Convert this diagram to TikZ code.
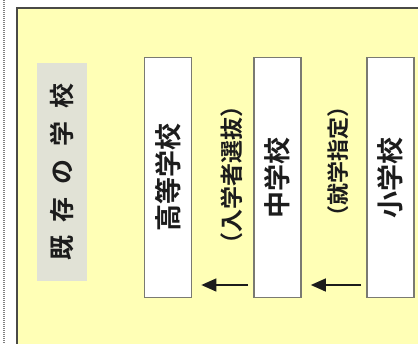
\documentclass[tikz,border=0pt]{standalone}
\usepackage{fontspec}
\newfontfamily\jp{Noto Sans CJK JP}[BoldFont={Noto Sans CJK JP Bold}]
\usetikzlibrary{arrows.meta,calc}
\definecolor{panelyellow}{HTML}{FFFFB6}
\definecolor{labelgray}{HTML}{E1E2D6}
\definecolor{boxline}{HTML}{7A7A72}
\definecolor{panelline}{HTML}{4A4A46}
\definecolor{inktext}{HTML}{1C1C1C}
\tikzset{
  schoolbox/.style={draw=boxline, line width=1.7pt, fill=white, rotate=90,
    minimum width=240pt, minimum height=47pt, inner sep=0pt,
    font=\jp\bfseries\fontsize{27}{27}\selectfont, text=inktext},
  pathlabel/.style={rotate=90, inner sep=0pt, text=inktext, font=\jp\bfseries},
  arr/.style={draw=inktext, line width=1.4pt, -{Triangle[length=15pt,width=13pt]}}
}
\begin{document}
\begin{tikzpicture}[x=1pt,y=-1pt]
\fill[white] (0,0) rectangle (418,343);
\useasboundingbox (0,0) rectangle (418,343);
\draw[gray, line width=1.2pt, dash pattern=on 1pt off 1pt] (4,0) -- (4,343);
\fill[panelyellow] (17,8) rectangle (420,345);
\draw[panelline, line width=1.6pt] (420,8) -- (17,8) -- (17,345);
\node[rotate=90, fill=labelgray, minimum width=218pt, minimum height=50pt, inner sep=0pt,
  font=\jp\bfseries\fontsize{25}{25}\selectfont, text=inktext] (lbl) at (62,172)
  {既\hspace{13pt}存\hspace{13pt}の\hspace{13pt}学\hspace{13pt}校};
\node[schoolbox] (h) at (168,177.5) {高等学校};
\node[schoolbox] (m) at (277.5,177.5) {中学校};
\node[schoolbox] (s) at (390.5,177.5) {小学校};
\node[pathlabel, font=\jp\bfseries\fontsize{23}{23}\selectfont] (l1) at (232,175) {（入学者選抜）};
\node[pathlabel, font=\jp\bfseries\fontsize{22}{22}\selectfont] (l2) at (338,161) {（就学指定）};
\coordinate (ya) at (0,285);
\draw[arr, shorten <=5pt, shorten >=9pt] (m.north |- ya) -- (h.south |- ya);
\draw[arr, shorten <=5pt, shorten >=9pt] (s.north |- ya) -- (m.south |- ya);
\end{tikzpicture}
\end{document}
